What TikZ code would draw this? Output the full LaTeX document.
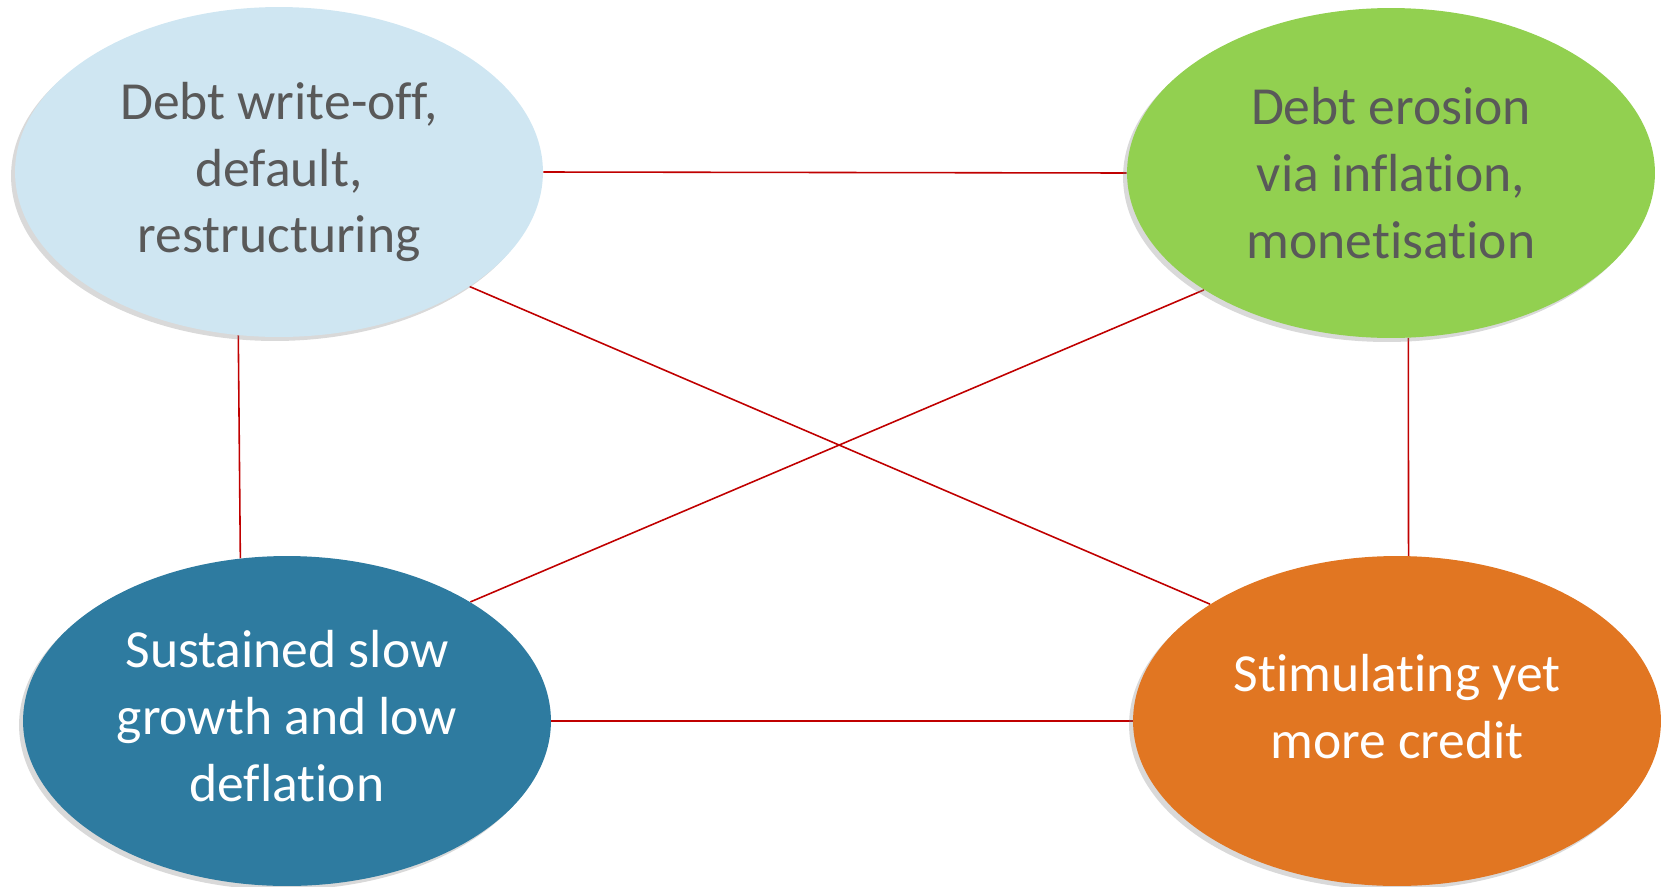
\documentclass[tikz,border=0pt]{standalone}
\usepackage{fontspec}
\setmainfont{Carlito}[Ligatures=NoCommon]
\usepackage{xcolor}
\usetikzlibrary{shapes.geometric,shadows,backgrounds}
\definecolor{lightblue}{HTML}{CFE6F2}
\definecolor{leafgreen}{HTML}{92D050}
\definecolor{tealblue}{HTML}{2E7BA0}
\definecolor{burnt}{HTML}{E17622}
\definecolor{darkgray}{HTML}{595959}
\definecolor{linkred}{HTML}{C00000}
\tikzset{
  bubble/.style={ellipse, minimum width=10.56cm, minimum height=6.6cm, inner sep=0pt,
    align=center, font=\fontsize{30.5}{38}\selectfont,
    drop shadow={shadow xshift=-0.08cm, shadow yshift=-0.08cm, opacity=0.3, fill=gray}},
  link/.style={draw=linkred, line width=0.9pt}
}

\begin{document}
\begin{tikzpicture}[x=0.02cm, y=-0.02cm]
      \useasboundingbox (0,0) rectangle (1663,886);

      \node (writeoff) at (279,172) [bubble, fill=lightblue, text=darkgray]
      {Debt write-off,\\default,\\restructuring};
      \node (erosion) at (1391,173) [bubble, fill=leafgreen, text=darkgray]
      {Debt erosion\\via inflation,\\monetisation};
      \node (slow) at (287,721) [bubble, fill=tealblue, text=white, text depth=0.2cm]
      {Sustained slow\\growth and low\\deflation};
      \node (credit) at (1397,721) [bubble, fill=burnt, text=white, text depth=0.6cm]
      {Stimulating yet\\more credit};

      \begin{scope}[on background layer]
      \draw [link] (writeoff.east) -- (erosion.west);
      \draw [link] (slow.east) -- (credit.west |- slow.east);
      \draw [link] (writeoff.-104.1) -- (slow.106.9);
      \draw [link] (erosion.-84.8) -- (credit.86.9);
      \draw [link] (writeoff.-31.7) -- (credit.148);
      \draw [link] (erosion.-148.5) -- (slow.33);
      \end{scope}
\end{tikzpicture}
\end{document}
